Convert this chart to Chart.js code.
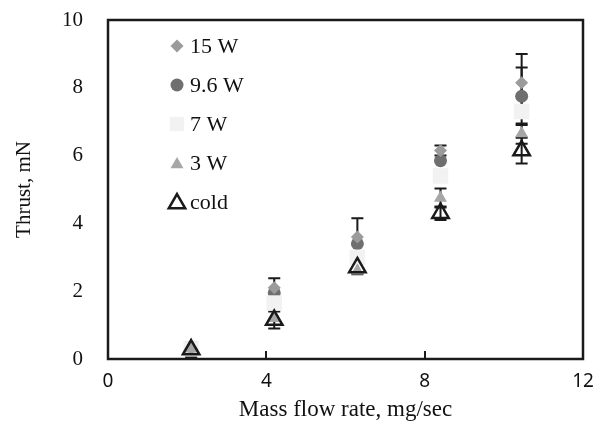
<!DOCTYPE html>
<html>
<head>
<meta charset="utf-8">
<script src="https://cdn.jsdelivr.net/npm/chart.js@4"></script>
<style>
  html, body { margin: 0; padding: 0; background: #fff; }
  #wrap { width: 606px; height: 437px; position: relative; }
</style>
</head>
<body>
<div id="wrap"><canvas id="thrustChart" width="606" height="437"></canvas></div>
<script>
// mass flow rate, mg/sec
const flowRates = [2.1, 4.2, 6.3, 8.4, 10.45];

// thrust, mN
const thrust15W  = [0.3, 2.1, 3.6, 6.15, 8.15];
const thrust96W  = [0.3, 1.95, 3.4, 5.85, 7.75];
const thrust7W   = [0.3, 1.65, 3.0, 5.4, 7.3];
const thrust3W   = [0.3, 1.2, 2.6, 4.75, 6.65];
const thrustCold = [0.28, 1.15, 2.7, 4.3, 6.15];

// error bar half-widths, mN
const err15W  = [0.15, 0.28, 0.55, 0.15, 0.85];
const err96W  = [0, 0, 0, 0, 0.85];
const err3W   = [0, 0, 0, 0.28, 0.3];
const errCold = [0.22, 0.25, 0.2, 0.2, 0.38];

const xTicks = [0, 4, 8, 12];
const yTicks = [0, 2, 4, 6, 8, 10];

const toPoints = (ys) => ys.map((y, i) => ({ x: flowRates[i], y: y }));

const series = [
    { label: '15 W',  data: thrust15W,  err: err15W,  style: 'rectRot',  radius: 6.5, bg: '#9b9b9b', border: '#9b9b9b', bw: 0, order: 3 },
    { label: '9.6 W', data: thrust96W,  err: err96W,  style: 'circle',   radius: 6.5, bg: '#6f6f6f', border: '#6f6f6f', bw: 0, order: 5 },
    { label: '7 W',   data: thrust7W,   err: null,    style: 'rect',     radius: 11,  bg: '#f2f2f2', border: '#f2f2f2', bw: 0, order: 4 },
    { label: '3 W',   data: thrust3W,   err: err3W,   style: 'triangle', radius: 7.5, bg: '#a6a6a6', border: '#a6a6a6', bw: 0, order: 2 },
    { label: 'cold',  data: thrustCold, err: errCold, style: 'triangle', radius: 9.5, bg: 'rgba(0,0,0,0)', border: '#1a1a1a', bw: 2.5, order: 1 }
];

const serif = '"Liberation Serif", "Times New Roman", serif';

// vertical error bars with caps, under the markers
const errorBars = {
    id: 'errorBars',
    beforeDatasetsDraw(chart) {
        const ctx = chart.ctx;
        const xs = chart.scales.x, ys = chart.scales.y;
        ctx.save();
        ctx.strokeStyle = '#1a1a1a';
        ctx.lineWidth = 2;
        series.forEach(s => {
            if (!s.err) return;
            s.data.forEach((v, i) => {
                const e = s.err[i];
                if (!e) return;
                const px = xs.getPixelForValue(flowRates[i]);
                const top = ys.getPixelForValue(v + e);
                const bot = ys.getPixelForValue(v - e);
                ctx.beginPath();
                ctx.moveTo(px, top); ctx.lineTo(px, bot);
                ctx.moveTo(px - 6, top); ctx.lineTo(px + 6, top);
                ctx.moveTo(px - 6, bot); ctx.lineTo(px + 6, bot);
                ctx.stroke();
            });
        });
        ctx.restore();
    }
};

// plot frame, inner x ticks and the legend inside the plot
const frameAndLegend = {
    id: 'frameAndLegend',
    afterDraw(chart) {
        const ctx = chart.ctx;
        const a = chart.chartArea;
        const xs = chart.scales.x;
        ctx.save();
        ctx.strokeStyle = '#1a1a1a';
        ctx.lineWidth = 2.5;
        ctx.strokeRect(a.left, a.top, a.right - a.left, a.bottom - a.top);

        ctx.lineWidth = 2;
        xTicks.slice(1, -1).forEach(t => {
            const px = Math.round(xs.getPixelForValue(t));
            ctx.beginPath();
            ctx.moveTo(px, a.bottom);
            ctx.lineTo(px, a.bottom - 8);
            ctx.stroke();
        });

        const lx = 177, ly0 = 46, step = 39;
        ctx.font = '22px ' + serif;
        ctx.textBaseline = 'middle';
        series.forEach((s, i) => {
            const y = ly0 + i * step;
            ctx.fillStyle = s.bg;
            ctx.strokeStyle = s.border;
            ctx.lineWidth = s.bw;
            const r = s.style === 'rect' ? 10 : s.radius;
            Chart.helpers.drawPoint(ctx, { pointStyle: s.style, radius: r, rotation: 0, borderWidth: s.bw }, lx, y + (s.style === 'triangle' ? 1.5 : 0));
            ctx.fillStyle = '#111';
            ctx.fillText(s.label, lx + 13, y + 1);
        });
        ctx.restore();
    }
};

new Chart(document.getElementById('thrustChart'), {
    type: 'scatter',
    plugins: [errorBars, frameAndLegend],
    data: {
        datasets: series.map(s => ({
            label: s.label,
            data: toPoints(s.data),
            pointStyle: s.style,
            pointRadius: s.radius,
            pointHoverRadius: s.radius,
            backgroundColor: s.bg,
            borderColor: s.border,
            borderWidth: s.bw,
            order: s.order
        }))
    },
    options: {
        responsive: false,
        animation: false,
        layout: { padding: { top: 20, right: 23, left: 0, bottom: 0 } },
        plugins: { legend: { display: false }, tooltip: { enabled: false } },
        scales: {
            x: {
                type: 'linear',
                min: 0, max: 12,
                afterBuildTicks: (scale) => { scale.ticks = xTicks.map(v => ({ value: v })); },
                afterFit: (scale) => { scale.height = 78; scale.paddingLeft = 0; scale.paddingRight = 0; },
                grid: { display: false, drawTicks: false },
                border: { display: false },
                ticks: {
                    padding: 11,
                    color: '#111',
                    font: { family: '"Noto Sans", "Liberation Sans", sans-serif', size: 19 }
                },
                title: {
                    display: true,
                    text: 'Mass flow rate, mg/sec',
                    color: '#111',
                    padding: { top: 0, bottom: 13 },
                    font: { family: serif, size: 23 }
                }
            },
            y: {
                type: 'linear',
                min: 0, max: 10,
                afterBuildTicks: (scale) => { scale.ticks = yTicks.map(v => ({ value: v })); },
                afterFit: (scale) => { scale.width = 108; scale.paddingTop = 0; scale.paddingBottom = 0; },
                grid: { display: false, drawTicks: false },
                border: { display: false },
                ticks: {
                    padding: 25,
                    color: '#111',
                    font: { family: serif, size: 21 }
                },
                title: {
                    display: true,
                    text: 'Thrust, mN',
                    color: '#111',
                    padding: { top: 12, bottom: 0 },
                    font: { family: serif, size: 21 }
                }
            }
        }
    }
});
</script>
</body>
</html>
